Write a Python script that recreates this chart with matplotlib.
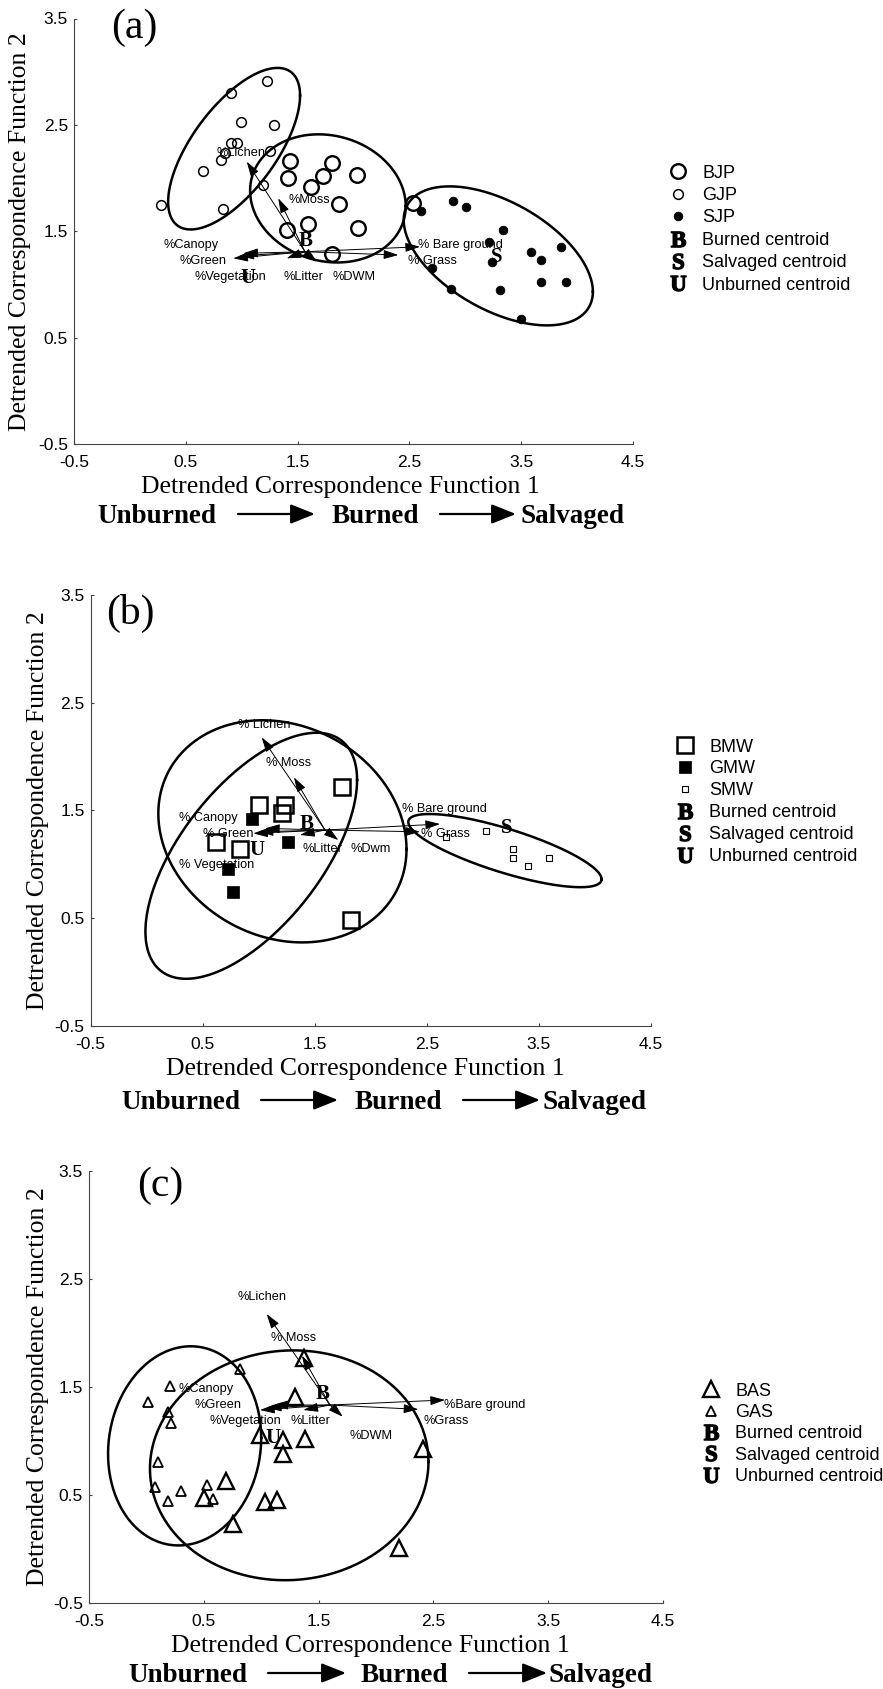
import numpy as np
import matplotlib
matplotlib.use("Agg")
import matplotlib.pyplot as plt
from matplotlib.lines import Line2D
from matplotlib.patches import FancyArrowPatch

W, H = 883, 1689  # 输出像素

plt.rcParams["font.family"] = ["Liberation Sans", "DejaVu Sans"]
plt.rcParams["mathtext.fontset"] = "custom"
plt.rcParams["mathtext.rm"] = "Liberation Serif"
plt.rcParams["mathtext.bf"] = "Liberation Serif:bold"

# ---------------- (a) jack pine ----------------
BJP_X = [1.432, 1.411, 1.620, 1.730, 1.805, 2.029, 1.870, 1.408, 1.596, 2.043, 1.805, 2.535]
BJP_Y = [2.161, 2.005, 1.920, 2.023, 2.139, 2.030, 1.754, 1.513, 1.569, 1.529, 1.285, 1.764]
GJP_X = [0.275, 0.657, 0.812, 0.836, 0.851, 0.901, 0.961, 0.901, 0.994, 1.229, 1.292, 1.253, 1.193]
GJP_Y = [1.748, 2.067, 2.171, 1.708, 2.233, 2.327, 2.333, 2.803, 2.525, 2.913, 2.500, 2.255, 1.936]
SJP_X = [2.601, 2.893, 3.006, 3.334, 3.215, 3.588, 3.677, 3.856, 3.236, 2.705, 2.872, 3.310, 3.677, 3.898, 3.498]
SJP_Y = [1.692, 1.786, 1.726, 1.513, 1.403, 1.304, 1.231, 1.356, 1.215, 1.153, 0.956, 0.949, 1.028, 1.022, 0.674]
A_CENTROIDS = {"B": (1.575, 1.413), "S": (3.280, 1.262), "U": (1.059, 1.060)}
# 置信椭圆：中心、x/y 半幅、相关系数
A_ELL_CX = [0.932, 1.771, 3.295]
A_ELL_CY = [2.277, 1.810, 1.270]
A_ELL_SX = [0.590, 0.696, 0.846]
A_ELL_SY = [0.759, 0.602, 0.653]
A_ELL_RHO = [0.658, -0.12, -0.515]
A_ORIGIN = (1.566, 1.309)
A_VEC_LABELS = ["%Lichen", "%Moss", "%Canopy", "%Green", "%Vegetation", "%Litter", "%DWM", "% Bare ground", "% Grass"]
A_VEC_X = [1.045, 1.327, 1.014, 0.925, 0.980, 1.402, 1.671, 2.595, 2.401]
A_VEC_Y = [2.155, 1.811, 1.294, 1.247, 1.270, 1.247, 1.215, 1.356, 1.278]
A_LAB_X = [0.776, 1.417, 0.299, 0.442, 0.576, 1.378, 1.813, 2.580, 2.490]
A_LAB_Y = [2.234, 1.795, 1.368, 1.225, 1.075, 1.075, 1.075, 1.368, 1.220]

# ---------------- (b) mixedwood ----------------
BMW_X = [1.003, 1.238, 1.205, 1.746, 0.620, 0.834, 1.821]
BMW_Y = [1.548, 1.548, 1.471, 1.713, 1.207, 1.137, 0.480]
GMW_X = [0.943, 1.265, 0.729, 0.774]
GMW_Y = [1.415, 1.207, 0.951, 0.743]
SMW_X = [2.671, 3.025, 3.266, 3.266, 3.400, 3.593]
SMW_Y = [1.254, 1.310, 1.137, 1.059, 0.981, 1.053]
B_CENTROIDS = {"B": (1.428, 1.372), "S": (3.213, 1.332), "U": (0.988, 1.130)}
B_ELL_CX = [1.212, 0.934, 3.197]
B_ELL_CY = [1.304, 1.077, 1.125]
B_ELL_SX = [1.107, 0.944, 0.862]
B_ELL_SY = [1.032, 1.143, 0.340]
B_ELL_RHO = [-0.16, 0.616, -0.78]
B_ORIGIN = (1.592, 1.316)
B_VEC_LABELS = ["% Lichen", "% Moss", "% Canopy", "% Green", "% Vegetation", "%Litter", "%Dwm", "% Bare ground", "% Grass"]
B_VEC_X = [1.027, 1.315, 1.057, 0.952, 1.000, 1.369, 1.711, 2.618, 2.439]
B_VEC_Y = [2.177, 1.806, 1.332, 1.285, 1.300, 1.270, 1.223, 1.372, 1.300]
B_LAB_X = [0.818, 1.066, 0.292, 0.500, 0.292, 1.393, 1.815, 2.276, 2.445]
B_LAB_Y = [2.292, 1.941, 1.425, 1.279, 0.991, 1.137, 1.137, 1.508, 1.279]

# ---------------- (c) aspen ----------------
BAS_X = [1.373, 1.294, 1.187, 1.382, 1.187, 0.693, 0.502, 1.033, 1.135, 2.412, 0.750, 2.200, 0.990]
BAS_Y = [1.766, 1.410, 1.009, 1.016, 0.880, 0.633, 0.470, 0.438, 0.454, 0.926, 0.230, 0.008, 1.056]
GAS_X = [0.206, 0.011, 0.190, 0.212, 0.815, 0.104, 0.075, 0.191, 0.301, 0.525, 0.578]
GAS_Y = [1.509, 1.364, 1.266, 1.164, 1.664, 0.803, 0.577, 0.447, 0.540, 0.593, 0.460]
C_CENTROIDS = {"B": (1.536, 1.435), "U": (1.106, 1.025)}
C_ELL_CX = [0.333, 1.244]
C_ELL_CY = [0.955, 0.775]
C_ELL_SX = [0.667, 1.213]
C_ELL_SY = [0.922, 1.064]
C_ELL_RHO = [0.08, 0.03]
C_ORIGIN = (1.599, 1.333)
C_VEC_LABELS = ["%Lichen", "% Moss", "%Canopy", "%Green", "%Vegetation", "%Litter", "%DWM", "%Bare ground", "%Grass"]
C_VEC_X = [1.048, 1.355, 1.106, 0.990, 1.050, 1.367, 1.710, 2.601, 2.369]
C_VEC_Y = [2.176, 1.790, 1.333, 1.287, 1.310, 1.287, 1.225, 1.380, 1.293]
C_LAB_X = [0.792, 1.083, 0.278, 0.423, 0.554, 1.257, 1.767, 2.592, 2.412]
C_LAB_Y = [2.336, 1.957, 1.479, 1.333, 1.188, 1.188, 1.046, 1.333, 1.188]

TICKS_X = [-0.5, 0.5, 1.5, 2.5, 3.5, 4.5]
TICKS_Y = [-0.5, 0.5, 1.5, 2.5, 3.5]

# 组样式（marker, 大小, 填充, 线宽）
STYLES = {
    "BJP": dict(marker="o", ms=10.5, mfc="none", mew=1.7),
    "GJP": dict(marker="o", ms=7.0, mfc="none", mew=1.1),
    "SJP": dict(marker="o", ms=6.3, mfc="black", mew=0.5),
    "BMW": dict(marker="s", ms=12, mfc="none", mew=1.8),
    "GMW": dict(marker="s", ms=8.5, mfc="black", mew=0.5),
    "SMW": dict(marker="s", ms=5.0, mfc="none", mew=0.8),
    "BAS": dict(marker="^", ms=11, mfc="none", mew=1.7),
    "GAS": dict(marker="^", ms=6.8, mfc="none", mew=1.3),
}
CENTROID_NAMES = {"B": "Burned centroid", "S": "Salvaged centroid", "U": "Unburned centroid"}


def px_rect(l, r, t, b):
    return [l / W, 1 - b / H, (r - l) / W, (b - t) / H]


def ellipse(ax, cx, cy, sx, sy, rho):
    s = np.linspace(0, 2 * np.pi, 300)
    x = cx + sx * np.cos(s)
    y = cy + sy * (rho * np.cos(s) + np.sqrt(1 - rho ** 2) * np.sin(s))
    ax.plot(x, y, color="black", lw=1.8, zorder=2)


def draw_panel(fig, rect, groups, cents, ell, origin, vec, labs, names,
               xlab_x, tag, tag_xy, leg_xy, leg_ls, bottom):
    ax = fig.add_axes(px_rect(*rect))
    for name, xs, ys in groups:
        ax.plot(xs, ys, ls="none", color="black", zorder=3, **STYLES[name])
    for cx, cy, sx, sy, rho in zip(*ell):
        ellipse(ax, cx, cy, sx, sy, rho)
    for hx, hy in zip(*vec):
        ax.annotate("", xy=(hx, hy), xytext=origin,
                    arrowprops=dict(arrowstyle="-|>,head_length=0.9,head_width=0.28",
                                    mutation_scale=10, lw=0.7, color="black",
                                    shrinkA=0, shrinkB=0), zorder=4)
    for txt, lx, ly in zip(names, *labs):
        ax.text(lx, ly, txt, ha="left", va="center", fontsize=9.2, zorder=5)
    for k, (cx, cy) in cents.items():
        ax.text(cx, cy, k, ha="center", va="center", family="Liberation Serif",
                weight="bold", fontsize=15, zorder=6)

    ax.set_xlim(-0.5, 4.5)
    ax.set_ylim(-0.5, 3.5)
    ax.set_xticks(TICKS_X)
    ax.set_yticks(TICKS_Y)
    ax.set_xticklabels([f"{t:.1f}" for t in TICKS_X])
    ax.set_yticklabels([f"{t:.1f}" for t in TICKS_Y])
    for sp in ("top", "right"):
        ax.spines[sp].set_visible(False)
    for sp in ("left", "bottom"):
        ax.spines[sp].set_color("#444444")
        ax.spines[sp].set_linewidth(0.8)
    ax.tick_params(direction="in", length=2, width=0.8, color="#444444", labelsize=12.5)
    ax.tick_params(axis="x", pad=8)
    ax.tick_params(axis="y", pad=4.3)

    h = rect[3] - rect[2]
    wd = rect[1] - rect[0]
    ax.set_xlabel("Detrended Correspondence Function 1", family="Liberation Serif", fontsize=18.5)
    ax.xaxis.label.set_va("baseline")
    ax.xaxis.set_label_coords(xlab_x, -49 / h)
    ax.set_ylabel("Detrended Correspondence Function 2", family="Liberation Serif", fontsize=18.5)
    ax.yaxis.label.set_va("center")
    ax.yaxis.set_label_coords((leg_xy[3] - rect[0]) / wd, 0.5)

    fig.text(tag_xy[0] / W, 1 - tag_xy[1] / H, tag, ha="center", va="center",
             family="Liberation Serif", fontsize=30)

    # 图例：分组 + 质心字母
    handles, labels = [], []
    for name, _, _ in groups:
        handles.append(Line2D([], [], ls="none", color="black", **STYLES[name]))
        labels.append(name)
    for k in ("B", "S", "U"):
        handles.append(Line2D([], [], ls="none", color="black",
                              marker=r"$\mathbf{%s}$" % k, ms=11))
        labels.append(CENTROID_NAMES[k])
    fig.legend(handles, labels, loc="upper left",
               bbox_to_anchor=((leg_xy[0] - 14.4) / W, 1 - (leg_xy[1] - 10.4) / H),
               frameon=False, prop={"family": "Liberation Sans", "size": 13},
               handlelength=1.6, handletextpad=0.53, labelspacing=leg_ls,
               borderpad=0, borderaxespad=0)

    # 底部 Unburned -> Burned -> Salvaged
    ux, a1, a2, bx, a3, a4, sx_, base, ay = bottom
    for x, t in ((ux, "Unburned"), (bx, "Burned"), (sx_, "Salvaged")):
        fig.text(x / W, 1 - base / H, t, ha="center", va="baseline",
                 family="Liberation Serif", weight="bold", fontsize=19.5)
    for x0, x1 in ((a1, a2), (a3, a4)):
        fig.add_artist(FancyArrowPatch((x0 / W, 1 - ay / H), (x1 / W, 1 - ay / H),
                                       transform=fig.transFigure,
                                       arrowstyle="-|>,head_length=1.0,head_width=0.4",
                                       mutation_scale=15, lw=1.6, color="black",
                                       shrinkA=0, shrinkB=0))
    return ax


fig = plt.figure(figsize=(W / 100, H / 100), dpi=100)

draw_panel(fig, (74, 633, 18.5, 444.3),
           [("BJP", BJP_X, BJP_Y), ("GJP", GJP_X, GJP_Y), ("SJP", SJP_X, SJP_Y)],
           A_CENTROIDS, (A_ELL_CX, A_ELL_CY, A_ELL_SX, A_ELL_SY, A_ELL_RHO),
           A_ORIGIN, (A_VEC_X, A_VEC_Y), (A_LAB_X, A_LAB_Y), A_VEC_LABELS,
           0.477, "(a)", (134, 28), (678, 175, 0, 20), 0.3,
           (157, 238, 315, 375, 440, 516, 573, 523, 514))

draw_panel(fig, (90.5, 651, 595, 1025.5),
           [("BMW", BMW_X, BMW_Y), ("GMW", GMW_X, GMW_Y), ("SMW", SMW_X, SMW_Y)],
           B_CENTROIDS, (B_ELL_CX, B_ELL_CY, B_ELL_SX, B_ELL_SY, B_ELL_RHO),
           B_ORIGIN, (B_VEC_X, B_VEC_Y), (B_LAB_X, B_LAB_Y), B_VEC_LABELS,
           0.49, "(b)", (130, 613), (685, 749, 0, 38), 0.27,
           (181, 261, 338, 398, 463, 540, 595, 1109, 1100))

draw_panel(fig, (89, 663, 1171, 1603),
           [("BAS", BAS_X, BAS_Y), ("GAS", GAS_X, GAS_Y)],
           C_CENTROIDS, (C_ELL_CX, C_ELL_CY, C_ELL_SX, C_ELL_SY, C_ELL_RHO),
           C_ORIGIN, (C_VEC_X, C_VEC_Y), (C_LAB_X, C_LAB_Y), C_VEC_LABELS,
           0.49, "(c)", (160, 1186), (711, 1393, 0, 38), 0.24,
           (188, 268, 346, 404, 469, 547, 601, 1682, 1673))

fig.savefig("out.png", dpi=100)
